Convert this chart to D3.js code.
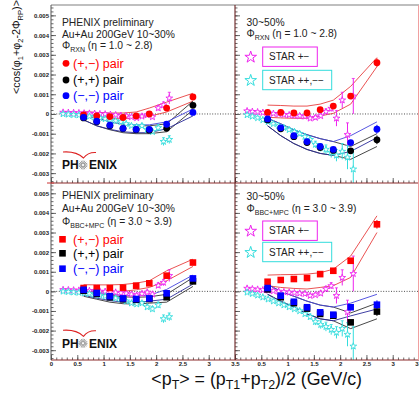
<!DOCTYPE html>
<html><head><meta charset="utf-8">
<script src="https://cdn.jsdelivr.net/npm/d3@7"></script>
<style>body{margin:0;background:#fff}svg{display:block}</style>
</head><body><svg id="c" width="419" height="393"></svg>
<script>
// ---------------- DATA ----------------
const xPhx = [0.62, 0.87, 1.12, 1.37, 1.62, 1.87, 2.2, 2.7];
// top-left: 10-30%, PHI_RXN
const tlRed   = [-0.00005,-0.0001,-0.00013,-0.00018,-0.0001,0.0,0.0003,0.00086];
const tlBlack = [-0.0002,-0.0004,-0.0006,-0.00074,-0.0008,-0.00082,-0.00073,0.00044];
const tlBlue  = [-0.00017,-0.00037,-0.00057,-0.00073,-0.00078,-0.00078,-0.00052,0.00008];
const tlRedHi   = [0.00012,0.00008,0.00005,0.00005,0.0001,0.0003,0.0006,0.00105];
const tlRedLo   = [-0.00012,-0.00018,-0.00022,-0.00025,-0.0002,-0.00012,0.0001,0.00065];
const tlBlackHi = [-0.00005,-0.0002,-0.0004,-0.00052,-0.0006,-0.0006,-0.0005,0.00065];
const tlBlackLo = [-0.0003,-0.0006,-0.0008,-0.00095,-0.001,-0.001,-0.0009,0.0002];
const tlBlueHi  = [-0.00005,-0.0002,-0.0004,-0.0005,-0.00055,-0.00055,-0.0004,0.00025];
const tlBlueLo  = [-0.0003,-0.0006,-0.00078,-0.0009,-0.00095,-0.00095,-0.00075,-0.0001];
// top-right: 30-50%, PHI_RXN
const trRed   = [0.00008,0.00008,0.00005,0.00005,0.00022,0.0004,0.00091,0.0026];
const trBlack = [-0.0003,-0.00075,-0.00115,-0.00145,-0.0017,-0.00185,-0.00187,-0.00131];
const trBlue  = [-0.00025,-0.0007,-0.0011,-0.0014,-0.00165,-0.0018,-0.00145,-0.00077];
const trRedHi   = [0.00045,0.00043,0.0004,0.0004,0.0005,0.0007,0.0014,0.00286];
const trRedLo   = [-0.00017,-0.0002,-0.00022,-0.00022,-0.0001,0.00003,0.0005,0.0024];
const trBlackHi = [-0.00022,-0.0005,-0.0008,-0.00105,-0.00125,-0.0014,-0.00165,-0.001];
const trBlackLo = [-0.0006,-0.0011,-0.0015,-0.0018,-0.002,-0.0021,-0.0023,-0.00165];
const trBlueHi  = [-0.00022,-0.0005,-0.0008,-0.00105,-0.00125,-0.0014,-0.0011,-0.0004];
const trBlueLo  = [-0.0006,-0.0011,-0.0015,-0.0018,-0.002,-0.0021,-0.0019,-0.0012];
// bottom-left: 10-30%, PHI_BBC+MPC
const blRed   = [0.00017,0.00017,0.00017,0.00019,0.00029,0.00041,0.0008,0.00147];
const blBlack = [0.00003,-0.00013,-0.0003,-0.0004,-0.00043,-0.00039,-0.0003,0.00051];
const blBlue  = [0.00008,-0.00008,-0.00025,-0.00036,-0.00039,-0.00036,-0.0001,0.00066];
const blRedHi   = [0.00034,0.00033,0.00033,0.00035,0.00042,0.00054,0.00105,0.00164];
const blRedLo   = [0.00003,0.0,-0.00002,0.0,0.00008,0.0002,0.00054,0.00127];
const blBlackHi = [0.00005,-0.0001,-0.0002,-0.00028,-0.0003,-0.00028,-0.00015,0.0007];
const blBlackLo = [-0.00025,-0.0004,-0.00055,-0.00063,-0.00065,-0.0006,-0.00055,0.00025];
const blBlueHi  = [0.00012,-0.00003,-0.00015,-0.0002,-0.00022,-0.0002,0.0001,0.00083];
const blBlueLo  = [-0.0002,-0.00035,-0.00047,-0.00055,-0.00056,-0.0005,-0.0004,0.00037];
// bottom-right: 30-50%, PHI_BBC+MPC
const brRed   = [0.00049,0.00058,0.00063,0.00068,0.00088,0.00105,0.00156,0.00342];
const brBlack = [0.0001,-0.0003,-0.0006,-0.00088,-0.00115,-0.00124,-0.00158,-0.00103];
const brBlue  = [0.00017,-0.00022,-0.00053,-0.00081,-0.00107,-0.00119,-0.00081,-0.00068];
const brRedHi   = [0.00083,0.00085,0.00086,0.00088,0.00095,0.00113,0.0018,0.00385];
const brRedLo   = [0.00029,0.0002,0.00015,0.00012,0.0002,0.00029,0.00071,0.003];
const brBlackHi = [0.00035,0.0,-0.00025,-0.0005,-0.0007,-0.0008,-0.0011,-0.0006];
const brBlackLo = [-0.00015,-0.0005,-0.0008,-0.00115,-0.0014,-0.0015,-0.0019,-0.0014];
const brBlueHi  = [0.00035,0.0,-0.00025,-0.0005,-0.0007,-0.0008,-0.0006,-0.00015];
const brBlueLo  = [-0.00015,-0.0005,-0.0008,-0.00115,-0.0014,-0.0015,-0.00125,-0.0009];
// PHENIX stat errors
const phxErrL = [0.00003,0.00003,0.00003,0.00003,0.00004,0.00005,0.00007,0.0001];
const phxErrR = [0.00004,0.00004,0.00005,0.00005,0.00006,0.00008,0.00012,0.00022];

// STAR
const xStar = [0.23,0.33,0.43,0.53,0.63,0.73,0.83,0.93,1.03,1.13,1.23,1.33,1.43,1.53,1.63,1.73,1.83,1.93,2.04,2.14,2.25];
const starOppL = [0.00008,0.00007,0.00006,0.00005,0.00004,0.00003,0.00002,0.0,-0.00001,-0.00003,-0.00005,-0.00008,-0.0001,-0.00015,-0.0002,-0.00012,-0.00005,-0.00015,0.0003,0.00045,0.0008];
const starOppLErr = [0.00004,0.00004,0.00004,0.00004,0.00004,0.00004,0.00004,0.00005,0.00005,0.00005,0.00005,0.00006,0.00006,0.00007,0.00008,0.00009,0.0001,0.00011,0.00013,0.00016,0.0003];
const starSameL = [0.0,-0.00002,-0.00004,-0.00006,-0.0001,-0.00012,-0.00016,-0.0002,-0.00025,-0.0003,-0.00035,-0.0004,-0.0005,-0.0006,-0.00065,-0.0006,-0.0008,-0.0009,-0.0007,-0.0014,-0.0013];
const starSameLErr = [0.00003,0.00003,0.00003,0.00003,0.00003,0.00004,0.00004,0.00004,0.00005,0.00005,0.00006,0.00006,0.00007,0.00008,0.00009,0.0001,0.00011,0.00012,0.00015,0.0002,0.0002];
const starOppR = [0.00015,0.00012,0.0001,0.00007,0.00005,0.00002,0.0,-0.00003,-0.00005,-0.00008,-0.0001,-0.00012,-0.00022,-0.00018,-0.0001,0.00012,0.00028,-0.00022,0.0007,-0.00105,0.0009];
const starOppRErr = [0.00004,0.00004,0.00004,0.00004,0.00005,0.00005,0.00005,0.00006,0.00006,0.00007,0.00007,0.00008,0.00009,0.0001,0.00011,0.00013,0.00016,0.0004,0.0004,0.0006,0.0009];
const starSameR = [-0.00005,-0.00012,-0.0002,-0.0003,-0.0004,-0.0005,-0.0006,-0.0007,-0.0008,-0.0009,-0.001,-0.00115,-0.0013,-0.00155,-0.0017,-0.0018,-0.00195,-0.0021,-0.0019,-0.0022,-0.0028];
const starSameRErr = [0.00003,0.00003,0.00004,0.00004,0.00005,0.00005,0.00006,0.00007,0.00008,0.00009,0.0001,0.00012,0.00014,0.00017,0.0002,0.00023,0.00026,0.0003,0.0004,0.0006,0.001];

// tick labels
const xTicks = [0,0.5,1,1.5,2,2.5,3,3.5];
const xTickLabels = ["0","0.5","1","1.5","2","2.5","3","3.5"];
const yTicks = [-0.003,-0.002,-0.001,0,0.001,0.002,0.003,0.004,0.005];
const yTickLabels = ["-0.003","-0.002","-0.001","0","0.001","0.002","0.003","0.004","0.005"];

// ---------------- DRAW ----------------
const FONT = '"Liberation Sans", Arial, Helvetica, sans-serif';
const svg = d3.select('#c').attr('font-family', FONT);
svg.append('rect').attr('width',419).attr('height',393).attr('fill','#fff');

const xL = d3.scaleLinear().domain([0,3.5]).range([51,235]);
const xR = d3.scaleLinear().domain([0,3.5]).range([235,419]);
const yT = d3.scaleLinear().domain([-0.0035,0.0055]).range([183,5.5]);
const yB = d3.scaleLinear().domain([-0.0035,0.0055]).range([360,183.5]);

const RED = '#ff0000', BLUE = '#0000ff', BLACK = '#000000', MAG = '#ee22ee', CYAN = '#33dddd';

function richText(g, x, y, parts, size, color) {
  const t = g.append('text').attr('x',x).attr('y',y).attr('font-size',size).attr('fill',color);
  let shift = 0;
  parts.forEach(([s, type]) => {
    const ts = t.append('tspan').text(s);
    if (type === 'sub') { const d = size*0.3; ts.attr('font-size', size*0.68).attr('dy', d - shift); shift = d; }
    else { if (shift) ts.attr('dy', -shift); shift = 0; }
  });
  return t;
}

const panels = [
  {xs:xL, ys:yT, bottom:183, top:5.5, left:true, labels:false, sOpp:starOppL, sOppE:starOppLErr, sSame:starSameL, sSameE:starSameLErr,
   red:tlRed, black:tlBlack, blue:tlBlue, rHi:tlRedHi, rLo:tlRedLo, kHi:tlBlackHi, kLo:tlBlackLo, bHi:tlBlueHi, bLo:tlBlueLo, err:phxErrL, shape:'circle'},
  {xs:xR, ys:yT, bottom:183, top:5.5, left:false, labels:false, sOpp:starOppR, sOppE:starOppRErr, sSame:starSameR, sSameE:starSameRErr,
   red:trRed, black:trBlack, blue:trBlue, rHi:trRedHi, rLo:trRedLo, kHi:trBlackHi, kLo:trBlackLo, bHi:trBlueHi, bLo:trBlueLo, err:phxErrR, shape:'circle'},
  {xs:xL, ys:yB, bottom:360, top:183.5, left:true, labels:true, sOpp:starOppL, sOppE:starOppLErr, sSame:starSameL, sSameE:starSameLErr,
   red:blRed, black:blBlack, blue:blBlue, rHi:blRedHi, rLo:blRedLo, kHi:blBlackHi, kLo:blBlackLo, bHi:blBlueHi, bLo:blBlueLo, err:phxErrL, shape:'square'},
  {xs:xR, ys:yB, bottom:360, top:183.5, left:false, labels:true, sOpp:starOppR, sOppE:starOppRErr, sSame:starSameR, sSameE:starSameRErr,
   red:brRed, black:brBlack, blue:brBlue, rHi:brRedHi, rLo:brRedLo, kHi:brBlackHi, kLo:brBlackLo, bHi:brBlueHi, bLo:brBlueLo, err:phxErrR, shape:'square'}
];

const starSym = d3.symbol().type(d3.symbolStar).size(14);

panels.forEach(p => {
  const g = svg.append('g');
  const x0 = p.xs.range()[0], x1 = p.xs.range()[1];
  g.append('line').attr('x1',x0).attr('x2',x1).attr('y1',p.ys(0)).attr('y2',p.ys(0))
    .attr('stroke','#000').attr('stroke-width',0.7).attr('stroke-dasharray','1,1.6');

  const line = d3.line().x((d,i)=>p.xs(xPhx[i])).y(d=>p.ys(d));
  [[p.rHi,'#e84040'],[p.rLo,'#e84040'],[p.kHi,'#333333'],[p.kLo,'#333333'],[p.bHi,'#4444dd'],[p.bLo,'#2a2a99']].forEach(([arr,c])=>{
    g.append('path').attr('d',line(arr)).attr('fill','none').attr('stroke',c).attr('stroke-width',0.9);
  });

  [[p.sOpp,p.sOppE,MAG],[p.sSame,p.sSameE,CYAN]].forEach(([vals,errs,c])=>{
    const sg = g.append('g');
    vals.forEach((v,i)=>{
      const cx = p.xs(xStar[i]), cy = p.ys(v);
      const yt = p.ys(v+errs[i]), yb = Math.min(p.ys(v-errs[i]), p.bottom);
      sg.append('line').attr('x1',cx).attr('x2',cx).attr('y1',yt).attr('y2',yb).attr('stroke',c).attr('stroke-width',1);
      sg.append('line').attr('x1',cx-1.5).attr('x2',cx+1.5).attr('y1',yt).attr('y2',yt).attr('stroke',c).attr('stroke-width',0.8);
      sg.append('path').attr('d',starSym()).attr('transform',`translate(${cx},${cy})`)
        .attr('fill','#fff').attr('stroke',c).attr('stroke-width',0.9);
    });
  });

  [[p.red,RED],[p.black,BLACK],[p.blue,BLUE]].forEach(([vals,c])=>{
    vals.forEach((v,i)=>{
      const cx = p.xs(xPhx[i]), cy = p.ys(v);
      g.append('line').attr('x1',cx).attr('x2',cx).attr('y1',p.ys(v+p.err[i])).attr('y2',p.ys(v-p.err[i]))
        .attr('stroke',c).attr('stroke-width',1);
      if (p.shape==='circle') g.append('circle').attr('cx',cx).attr('cy',cy).attr('r',3.4).attr('fill',c);
      else g.append('rect').attr('x',cx-3.3).attr('y',cy-3.3).attr('width',6.6).attr('height',6.6).attr('fill',c);
    });
  });

  const bx = g.append('g').attr('transform',`translate(0,${p.bottom})`);
  bx.call(d3.axisBottom(p.xs).tickValues(d3.range(0,36).map(k=>k*0.1)).tickSizeInner(-2.5).tickSizeOuter(0).tickFormat(''));
  const bmaj = g.append('g').attr('transform',`translate(0,${p.bottom})`);
  bmaj.call(d3.axisBottom(p.xs).tickValues(xTicks).tickSizeInner(-5).tickSizeOuter(0).tickPadding(2)
    .tickFormat((d,i)=> p.labels ? xTickLabels[i] : ''));
  [bx,bmaj].forEach(a=>{ a.select('.domain').remove(); a.selectAll('line').attr('stroke','#444').attr('stroke-width',0.8); });
  bmaj.selectAll('text').attr('font-size',6).attr('font-weight','bold').attr('fill','#222').attr('font-family',FONT);
  if (!p.left) bmaj.selectAll('.tick').filter(d=>d===0).select('text').remove();

  const lx = g.append('g').attr('transform',`translate(${x0},0)`);
  lx.call(d3.axisLeft(p.ys).tickValues(d3.range(-17,28).map(k=>k*0.0002)).tickSizeInner(-2.5).tickSizeOuter(0).tickFormat(''));
  const lmaj = g.append('g').attr('transform',`translate(${x0},0)`);
  lmaj.call(d3.axisLeft(p.ys).tickValues(yTicks).tickSizeInner(-5).tickSizeOuter(0).tickPadding(2)
    .tickFormat((d,i)=> p.left ? yTickLabels[i] : ''));
  [lx,lmaj].forEach(a=>{ a.select('.domain').remove(); a.selectAll('line').attr('stroke','#444').attr('stroke-width',0.8); });
  lmaj.selectAll('text').attr('font-size',6).attr('font-weight','bold').attr('fill','#222').attr('font-family',FONT);

  g.append('line').attr('x1',x0).attr('x2',x1).attr('y1',p.bottom).attr('y2',p.bottom).attr('stroke','#8b2a2a').attr('stroke-width',1);
});

svg.append('line').attr('x1',51).attr('x2',419).attr('y1',5).attr('y2',5).attr('stroke','#aaaaaa').attr('stroke-width',1.6);
svg.append('line').attr('x1',51).attr('x2',51).attr('y1',5).attr('y2',360).attr('stroke','#555').attr('stroke-width',1);
svg.append('line').attr('x1',235).attr('x2',235).attr('y1',5).attr('y2',360).attr('stroke','#6b2222').attr('stroke-width',1.1);
svg.append('line').attr('x1',418.5).attr('x2',418.5).attr('y1',5).attr('y2',360).attr('stroke','#f0a0a0').attr('stroke-width',1);
svg.append('line').attr('x1',47).attr('x2',54).attr('y1',183).attr('y2',183).attr('stroke','#cc3333').attr('stroke-width',1);

// -------- texts --------
const T = svg.append('g');
const PS = 10.3;
function phiLine(x, y, sub, eta) { richText(T, x, y, [['Φ','n'],[sub,'sub'],[' (η = '+eta+')','n']], PS, '#222'); }
T.append('text').attr('x',62).attr('y',26).attr('font-size',PS).attr('fill','#222').text('PHENIX preliminary');
T.append('text').attr('x',62).attr('y',38).attr('font-size',PS).attr('fill','#222').text('Au+Au 200GeV 10~30%');
phiLine(62, 49, 'RXN', '1.0 ~ 2.8');
T.append('text').attr('x',62).attr('y',198.7).attr('font-size',PS).attr('fill','#222').text('PHENIX preliminary');
T.append('text').attr('x',62).attr('y',212).attr('font-size',PS).attr('fill','#222').text('Au+Au 200GeV 10~30%');
phiLine(62, 224.5, 'BBC+MPC', '3.0 ~ 3.9');
T.append('text').attr('x',246.5).attr('y',26.4).attr('font-size',PS).attr('fill','#222').text('30~50%');
phiLine(246.5, 37, 'RXN', '1.0 ~ 2.8');
T.append('text').attr('x',246.5).attr('y',200.4).attr('font-size',PS).attr('fill','#222').text('30~50%');
phiLine(246.5, 212, 'BBC+MPC', '3.0 ~ 3.9');

const legNames = ['(+,−) pair','(+,+) pair','(−,−) pair'];
const legColors = [RED, BLACK, BLUE];
[[63.3, 'circle'],[239.3, 'square']].forEach(([y0, shape], k)=>{
  const offs = k===0 ? [0,16.7,32.4] : [0,14,29.4];
  legNames.forEach((nm,i)=>{
    const cy = y0 + offs[i];
    if (shape==='circle') T.append('circle').attr('cx',66).attr('cy',cy).attr('r',3.4).attr('fill',legColors[i]);
    else T.append('rect').attr('x',62.5-3.3).attr('y',cy-3.3).attr('width',6.6).attr('height',6.6).attr('fill',legColors[i]);
    T.append('text').attr('x',73).attr('y',cy+4.4).attr('font-size',12.5).attr('fill',legColors[i]).text(nm);
  });
});

const legStar = d3.symbol().type(d3.symbolStar).size(42);
[[56.7,80],[230.7,252]].forEach(([ya,yb])=>{
  [[ya,MAG,'STAR +−',54.6],[yb,CYAN,'STAR ++,−−',69]].forEach(([cy,c,label,w])=>{
    T.append('path').attr('d',legStar()).attr('transform',`translate(250.7,${cy+0.5})`).attr('fill','none').attr('stroke',c).attr('stroke-width',1);
    T.append('rect').attr('x',262.7).attr('y',cy-9.7).attr('width',w).attr('height',19.4).attr('fill','#fff').attr('stroke',c).attr('stroke-width',1);
    T.append('text').attr('x',269).attr('y',cy+3.6).attr('font-size',10).attr('fill','#222').text(label);
  });
});

[165, 343.3].forEach(cy=>{
  const lg = T.append('g');
  lg.append('path').attr('d',`M63,${cy-13} Q76,${cy-14} 83.5,${cy-7} Q88,${cy-13} 96,${cy-12.5}`)
    .attr('fill','none').attr('stroke','#dd2222').attr('stroke-width',1.1);
  lg.append('text').attr('x',62).attr('y',cy+4.3).attr('font-size',12).attr('font-weight','bold').attr('fill','#111').text('PH');
  lg.append('text').attr('x',89).attr('y',cy+4.3).attr('font-size',12).attr('font-weight','bold').attr('fill','#111').text('ENIX');
  d3.range(16).forEach(k=>{
    const a = k*Math.PI/8;
    lg.append('line').attr('x1',83+1.2*Math.cos(a)).attr('y1',cy+1.2*Math.sin(a))
      .attr('x2',83+4.6*Math.cos(a)).attr('y2',cy+4.6*Math.sin(a)).attr('stroke','#888').attr('stroke-width',0.8);
  });
});

function richTitle(t, parts, size, subShift) {
  let shift = 0;
  t.attr('font-size',size).attr('fill','#111');
  parts.forEach(([s,type])=>{
    const ts = t.append('tspan').text(s);
    if (type==='sub'){ const d=size*subShift; ts.attr('font-size',size*0.7).attr('dy',d-shift); shift=d; }
    else { if (shift) ts.attr('dy',-shift); shift=0; }
  });
}
const yt = svg.append('text').attr('transform','translate(19.5,47) rotate(-90)').attr('text-anchor','middle');
richTitle(yt, [['<cos(φ','n'],['1','sub'],['+φ','n'],['2','sub'],['-2Φ','n'],['RP','sub'],[')>','n']], 10.8, 0.3);
const xt = svg.append('text').attr('x',256.7).attr('y',385).attr('text-anchor','middle');
richTitle(xt, [['<p','n'],['T','sub'],['> = (p','n'],['T1','sub'],['+p','n'],['T2','sub'],[')/2 (GeV/c)','n']], 17.8, 0.24);
</script></body></html>
